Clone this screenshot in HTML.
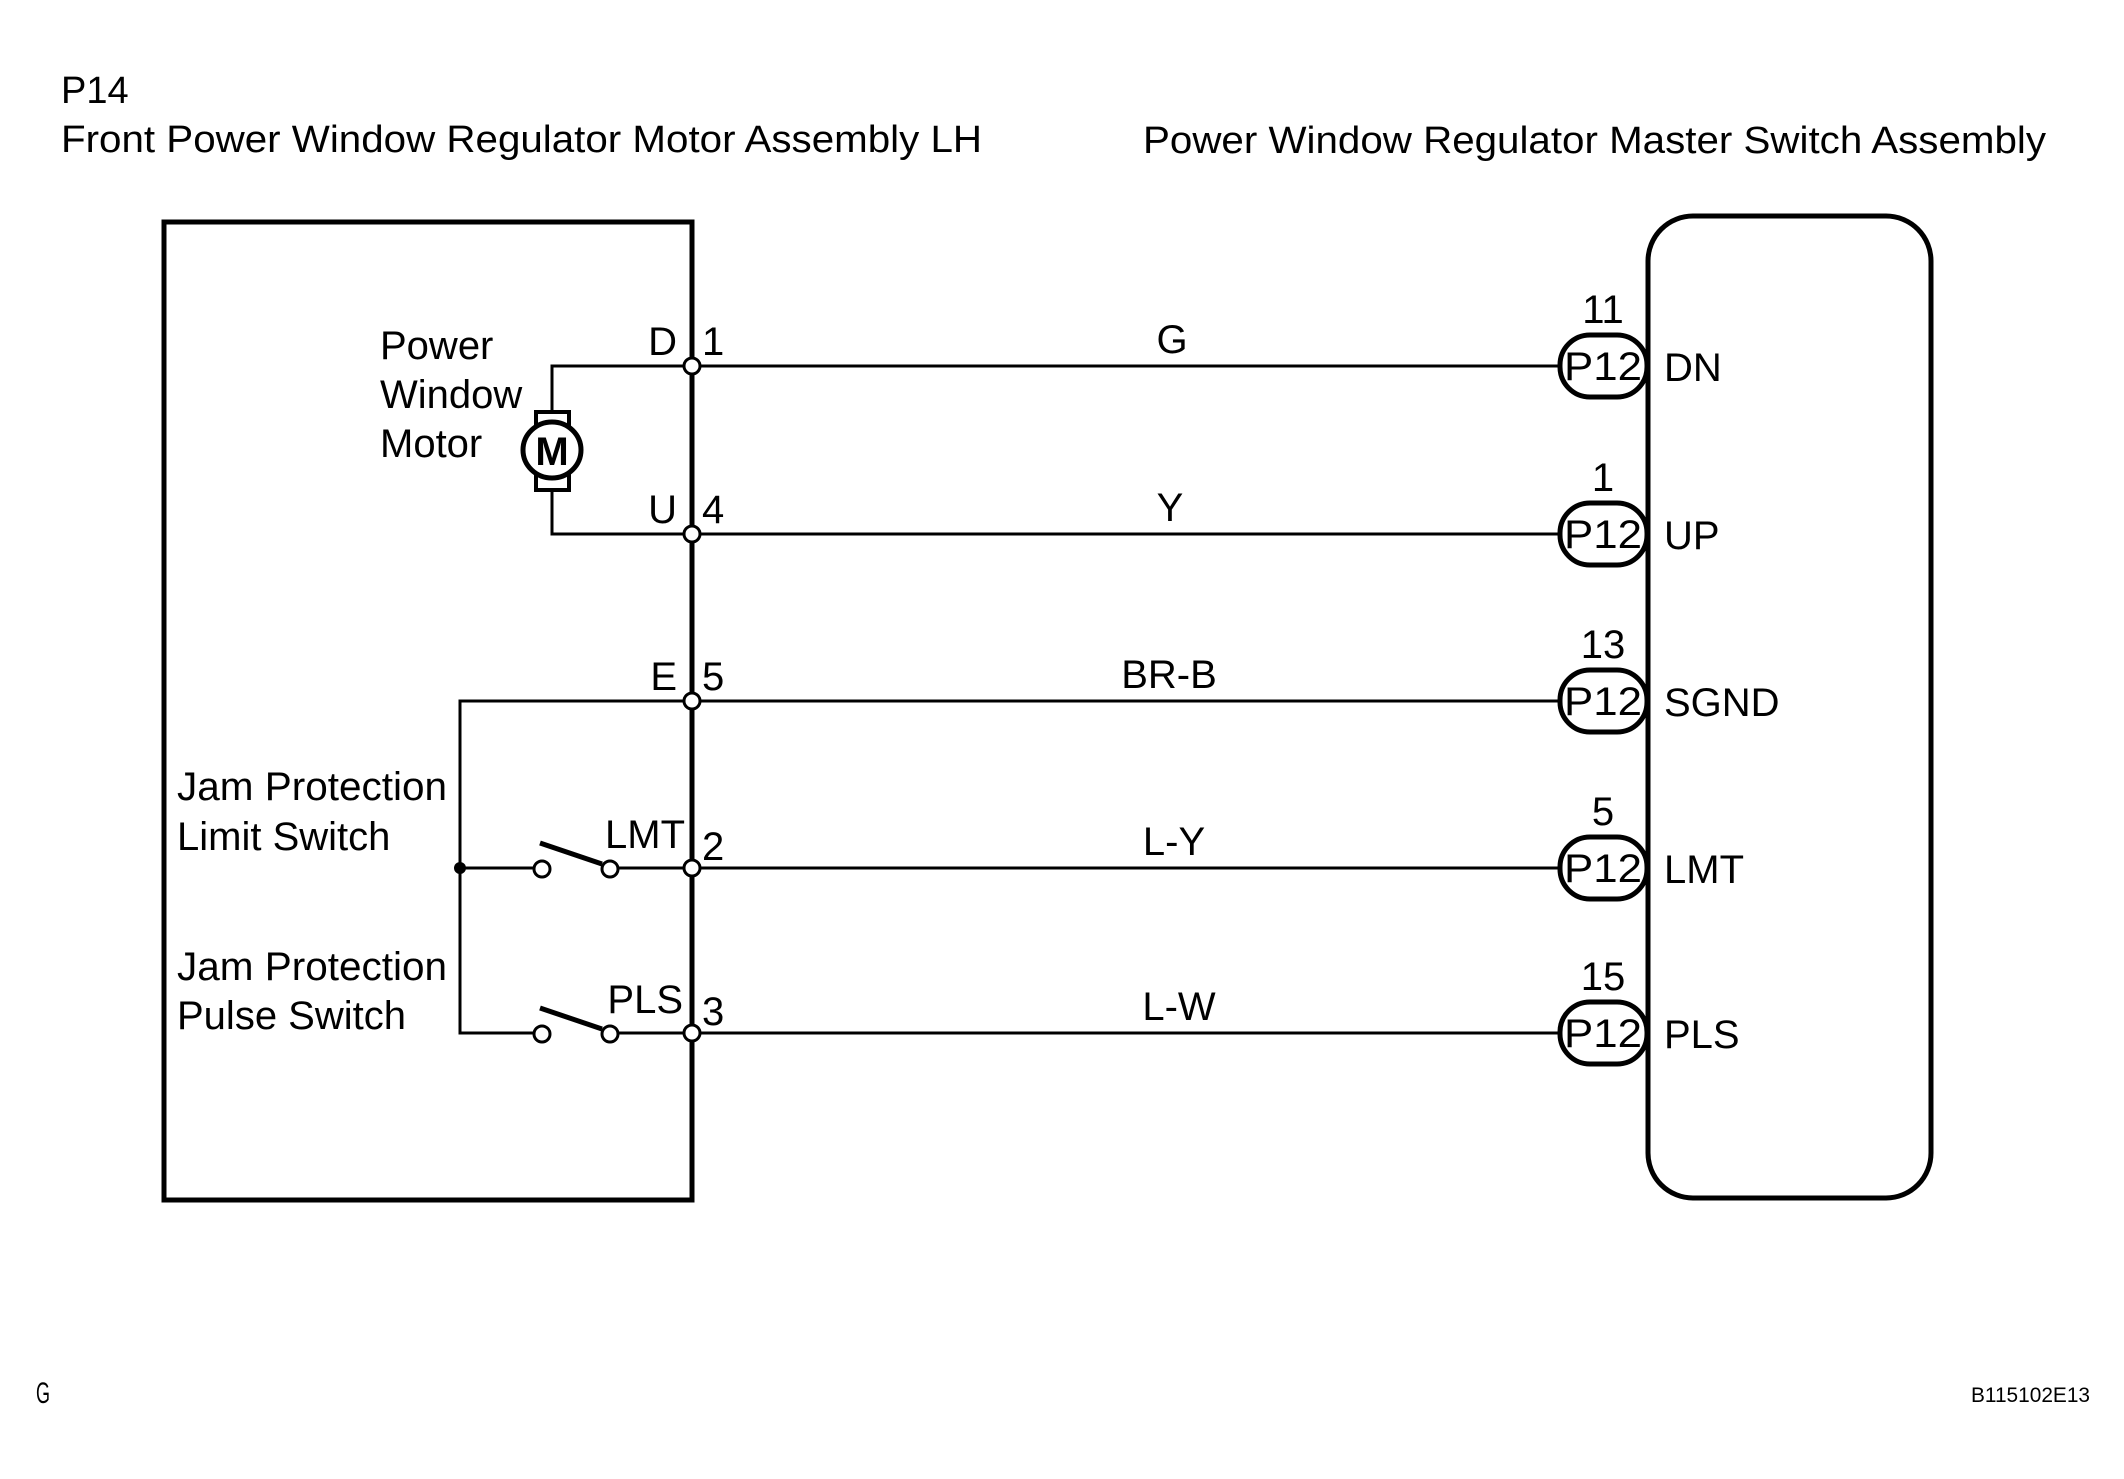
<!DOCTYPE html>
<html><head><meta charset="utf-8"><style>
html,body{margin:0;padding:0;background:#fff;}
svg{display:block;}
text{font-family:"Liberation Sans",Arial,sans-serif;fill:#000;}
</style></head><body>
<svg width="2124" height="1479" viewBox="0 0 2124 1479" xmlns="http://www.w3.org/2000/svg">
<g font-size="38">
<text x="61" y="103">P14</text>
<text x="61" y="152" textLength="921" lengthAdjust="spacingAndGlyphs">Front Power Window Regulator Motor Assembly LH</text>
<text x="1143" y="153" textLength="903" lengthAdjust="spacingAndGlyphs">Power Window Regulator Master Switch Assembly</text>
</g>
<rect x="164" y="222" width="528" height="978" fill="none" stroke="#000" stroke-width="5"/>
<rect x="1648" y="216" width="283" height="982" rx="45" ry="45" fill="none" stroke="#000" stroke-width="5"/>
<g stroke="#000" stroke-width="3" fill="none">
<line x1="692" y1="366" x2="1560" y2="366"/>
<line x1="692" y1="534" x2="1560" y2="534"/>
<line x1="692" y1="701" x2="1560" y2="701"/>
<line x1="692" y1="868" x2="1560" y2="868"/>
<line x1="692" y1="1033" x2="1560" y2="1033"/>
<polyline points="692,366 552,366 552,410"/>
<polyline points="552,491 552,534 692,534"/>
<polyline points="692,701 460,701 460,1033 535,1033"/>
<line x1="460" y1="868" x2="535" y2="868"/>
<line x1="615" y1="868" x2="692" y2="868"/>
<line x1="615" y1="1033" x2="692" y2="1033"/>
</g>
<rect x="536" y="412" width="33" height="78" fill="#fff" stroke="#000" stroke-width="4"/>
<ellipse cx="552" cy="450" rx="29" ry="28" fill="#fff" stroke="#000" stroke-width="5"/>
<text x="552" y="465" font-size="40" font-weight="bold" text-anchor="middle">M</text>
<g stroke="#000" fill="#fff" stroke-width="3">
<circle cx="542" cy="869" r="8"/>
<circle cx="610" cy="869" r="8"/>
<circle cx="542" cy="1034" r="8"/>
<circle cx="610" cy="1034" r="8"/>
<line x1="540" y1="843" x2="602" y2="864" stroke-width="5"/>
<line x1="540" y1="1008" x2="602" y2="1029" stroke-width="5"/>
<circle cx="692" cy="366" r="8"/>
<circle cx="692" cy="534" r="8"/>
<circle cx="692" cy="701" r="8"/>
<circle cx="692" cy="868" r="8"/>
<circle cx="692" cy="1033" r="8"/>
</g>
<circle cx="460" cy="868" r="6" fill="#000"/>
<g stroke="#000" stroke-width="5" fill="#fff">
<rect x="1560" y="335" width="87" height="62" rx="30"/>
<rect x="1560" y="503" width="87" height="62" rx="30"/>
<rect x="1560" y="670" width="87" height="62" rx="30"/>
<rect x="1560" y="837" width="87" height="62" rx="30"/>
<rect x="1560" y="1002" width="87" height="62" rx="30"/>
</g>
<g font-size="40">
<g text-anchor="middle">
<text x="1603" y="380" textLength="78" lengthAdjust="spacingAndGlyphs">P12</text><text x="1603" y="548" textLength="78" lengthAdjust="spacingAndGlyphs">P12</text><text x="1603" y="715" textLength="78" lengthAdjust="spacingAndGlyphs">P12</text><text x="1603" y="882" textLength="78" lengthAdjust="spacingAndGlyphs">P12</text><text x="1603" y="1047" textLength="78" lengthAdjust="spacingAndGlyphs">P12</text>
<text x="1603" y="323">11</text><text x="1603" y="491">1</text><text x="1603" y="658">13</text><text x="1603" y="825">5</text><text x="1603" y="990">15</text>
<text x="1172" y="353">G</text><text x="1170" y="521">Y</text><text x="1169" y="688">BR-B</text><text x="1174" y="855">L-Y</text><text x="1179" y="1020">L-W</text>
</g>
<text x="1664" y="381">DN</text><text x="1664" y="549">UP</text><text x="1664" y="716">SGND</text><text x="1664" y="883">LMT</text><text x="1664" y="1048">PLS</text>
<g text-anchor="end">
<text x="677" y="355">D</text><text x="677" y="523">U</text><text x="677" y="690">E</text><text x="685" y="848">LMT</text><text x="683" y="1013">PLS</text>
</g>
<text x="702" y="355">1</text><text x="702" y="523">4</text><text x="702" y="690">5</text><text x="702" y="860">2</text><text x="702" y="1025">3</text>
<text x="380" y="359">Power</text><text x="380" y="408">Window</text><text x="380" y="457">Motor</text>
<text x="177" y="800" textLength="270" lengthAdjust="spacingAndGlyphs">Jam Protection</text><text x="177" y="850">Limit Switch</text>
<text x="177" y="980" textLength="270" lengthAdjust="spacingAndGlyphs">Jam Protection</text><text x="177" y="1029">Pulse Switch</text>
</g>
<text x="36" y="1403" font-size="30" transform="translate(36 1403) scale(0.6 1) translate(-36 -1403)">G</text>
<text x="1971" y="1402" font-size="21" textLength="119" lengthAdjust="spacingAndGlyphs">B115102E13</text>
</svg>
</body></html>
